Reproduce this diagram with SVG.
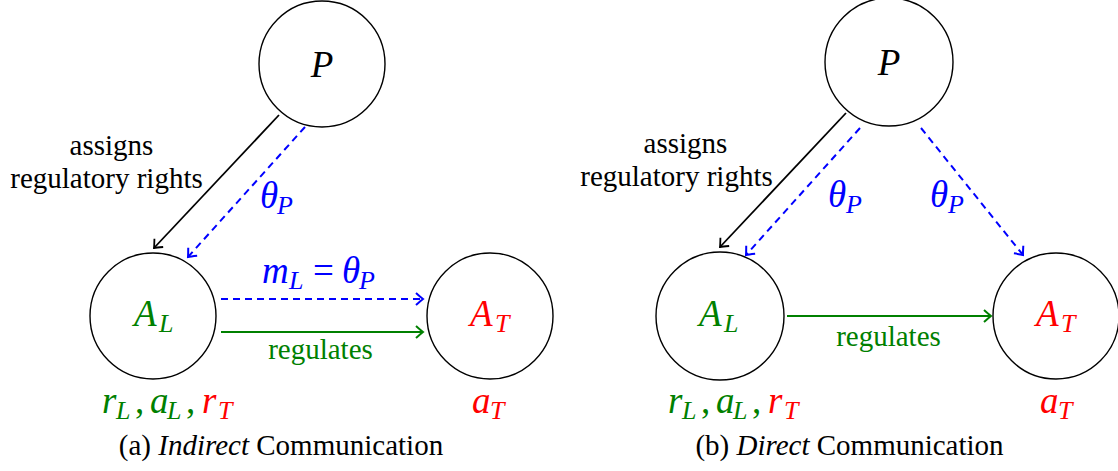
<svg xmlns="http://www.w3.org/2000/svg" width="1118" height="471" viewBox="0 0 1118 471">
<style>
.node{fill:none;stroke:#000;stroke-width:1.4}
.t{font-family:'Liberation Serif','DejaVu Serif',serif;font-size:29px;fill:#000}
.m{font-family:'Liberation Serif','DejaVu Serif',serif;font-size:37px;font-style:italic}
.s{font-size:26px;font-style:italic}
.up{font-style:normal}
.blk{stroke:#000;stroke-width:1.8;fill:none}
.blu{stroke:#0000ff;stroke-width:2;fill:none;stroke-dasharray:7 5}
.grn{stroke:#008000;stroke-width:2;fill:none}
.cb{fill:#0000ff}.cg{fill:#008000}.cr{fill:#ff0000}.ck{fill:#000}
</style>
<defs>
<marker id="ak" markerUnits="userSpaceOnUse" viewBox="-10 -8 12 16" refX="0" refY="0" markerWidth="12" markerHeight="16" orient="auto"><path d="M-7,-6 Q-2,-1.5 0,0 Q-2,1.5 -7,6" fill="none" stroke="#000" stroke-width="1.8"/></marker>
<marker id="ab" markerUnits="userSpaceOnUse" viewBox="-10 -8 12 16" refX="0" refY="0" markerWidth="12" markerHeight="16" orient="auto"><path d="M-7,-6 Q-2,-1.5 0,0 Q-2,1.5 -7,6" fill="none" stroke="#0000ff" stroke-width="2"/></marker>
<marker id="ag" markerUnits="userSpaceOnUse" viewBox="-10 -8 12 16" refX="0" refY="0" markerWidth="12" markerHeight="16" orient="auto"><path d="M-7,-6 Q-2,-1.5 0,0 Q-2,1.5 -7,6" fill="none" stroke="#008000" stroke-width="2"/></marker>
</defs>
<g id="connectors">
<line class="blk" x1="279" y1="115" x2="154" y2="248" marker-end="url(#ak)"/>
<line class="blu" x1="305" y1="127" x2="188" y2="257" marker-end="url(#ab)"/>
<line class="blu" x1="221" y1="299" x2="423" y2="299" marker-end="url(#ab)"/>
<line class="grn" x1="221" y1="332" x2="423" y2="332" marker-end="url(#ag)"/>
<line class="blk" x1="846" y1="113" x2="720" y2="247" marker-end="url(#ak)"/>
<line class="blu" x1="860" y1="128" x2="746" y2="255" marker-end="url(#ab)"/>
<line class="blu" x1="921" y1="128" x2="1023" y2="255" marker-end="url(#ab)"/>
<line class="grn" x1="787" y1="316" x2="991" y2="316" marker-end="url(#ag)"/>
</g>
<g id="labels">
<text class="t" text-anchor="middle"><tspan x="111.5" y="155">assigns</tspan><tspan x="106.5" y="188">regulatory rights</tspan></text>
<text class="t" text-anchor="middle"><tspan x="685.5" y="153">assigns</tspan><tspan x="676.5" y="186">regulatory rights</tspan></text>
<text class="m cb"><tspan x="260" y="208">θ</tspan><tspan class="s" x="277" y="214">P</tspan></text>
<text class="m cb"><tspan x="828" y="207">θ</tspan><tspan class="s" x="846" y="213">P</tspan></text>
<text class="m cb"><tspan x="930" y="207">θ</tspan><tspan class="s" x="948" y="213">P</tspan></text>
<text class="m cb"><tspan x="262" y="283">m</tspan><tspan class="s" x="289" y="289">L</tspan><tspan class="up" x="313" y="283">=</tspan><tspan x="342" y="283">θ</tspan><tspan class="s" x="359" y="289">P</tspan></text>
<text class="t cg" x="320.5" y="359" text-anchor="middle">regulates</text>
<text class="t cg" x="888.5" y="346" text-anchor="middle">regulates</text>
</g>
<g id="P-a">
<circle class="node" cx="322" cy="64" r="63"/>
<text class="m ck" x="322" y="77" text-anchor="middle">P</text>
</g>
<g id="AL-a">
<circle class="node" cx="153" cy="316" r="63"/>
<text class="m cg"><tspan x="134" y="326">A</tspan><tspan class="s" x="159" y="332">L</tspan></text>
<text class="m"><tspan class="cg" x="102" y="413">r</tspan><tspan class="s cg" x="116" y="419">L</tspan><tspan class="cg up" x="135" y="413">,</tspan><tspan class="cg" x="150" y="413">a</tspan><tspan class="s cg" x="167" y="419">L</tspan><tspan class="cg up" x="186" y="413">,</tspan><tspan class="cr" x="202" y="413">r</tspan><tspan class="s cr" x="218" y="419">T</tspan></text>
</g>
<g id="AT-a">
<circle class="node" cx="490" cy="316" r="63"/>
<text class="m cr"><tspan x="470" y="326">A</tspan><tspan class="s" x="495" y="332">T</tspan></text>
<text class="m cr"><tspan x="472" y="413">a</tspan><tspan class="s" x="490" y="419">T</tspan></text>
</g>
<g id="P-b">
<circle class="node" cx="889" cy="62" r="64"/>
<text class="m ck" x="889" y="75" text-anchor="middle">P</text>
</g>
<g id="AL-b">
<circle class="node" cx="720" cy="316" r="64"/>
<text class="m cg"><tspan x="699" y="326">A</tspan><tspan class="s" x="724" y="332">L</tspan></text>
<text class="m"><tspan class="cg" x="668" y="413">r</tspan><tspan class="s cg" x="682" y="419">L</tspan><tspan class="cg up" x="701" y="413">,</tspan><tspan class="cg" x="716" y="413">a</tspan><tspan class="s cg" x="733" y="419">L</tspan><tspan class="cg up" x="752" y="413">,</tspan><tspan class="cr" x="768" y="413">r</tspan><tspan class="s cr" x="784" y="419">T</tspan></text>
</g>
<g id="AT-b">
<circle class="node" cx="1056" cy="316" r="63"/>
<text class="m cr"><tspan x="1036" y="326">A</tspan><tspan class="s" x="1061" y="332">T</tspan></text>
<text class="m cr"><tspan x="1040" y="413">a</tspan><tspan class="s" x="1058" y="419">T</tspan></text>
</g>
<g id="captions">
<text class="t" x="281" y="455" text-anchor="middle">(a) <tspan font-style="italic">Indirect</tspan> Communication</text>
<text class="t" x="849.5" y="455" text-anchor="middle">(b) <tspan font-style="italic">Direct</tspan> Communication</text>
</g>
</svg>
